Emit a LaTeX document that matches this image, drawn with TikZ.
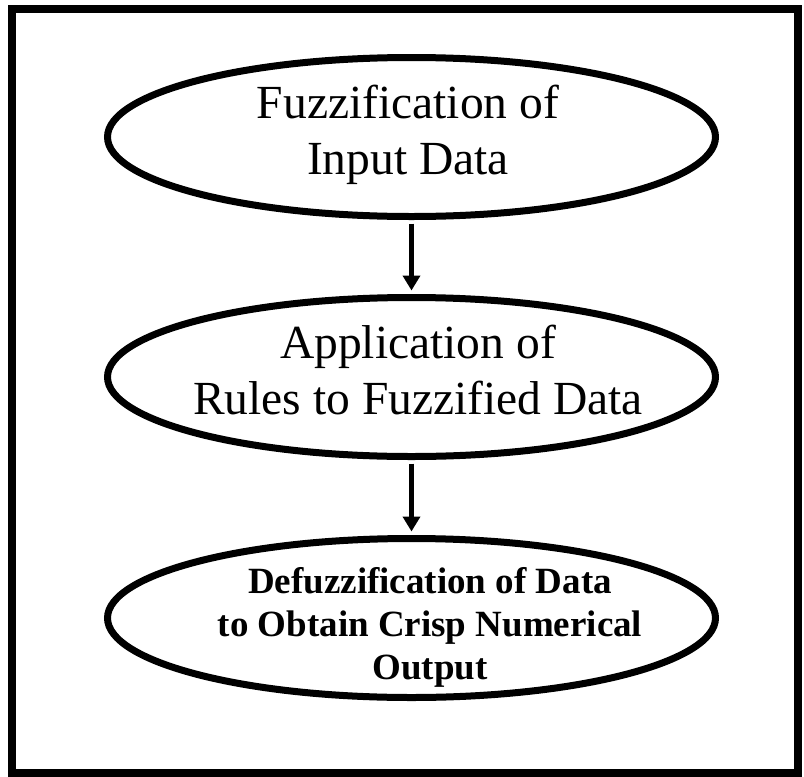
\documentclass[tikz,border=0pt]{standalone}
\usepackage{fontspec}
\setmainfont{Liberation Serif}
\usetikzlibrary{shapes.geometric,arrows.meta}

\tikzset{
  stage/.style={ellipse, draw=black, line width=7pt, minimum width=608pt,
                minimum height=159pt, inner sep=0pt},
  stagetext/.style={align=center, inner sep=0pt,
                    font=\fontsize{47.5}{56}\selectfont},
  stagebold/.style={align=center, inner sep=0pt,
                    font=\fontsize{37}{43}\selectfont\bfseries},
  flow/.style={line width=5pt, -{Triangle[width=17pt,length=15pt]},
               shorten >=3.5pt, shorten <=3.5pt},
  frame/.style={draw=black, line width=8pt}
}

\begin{document}
\begin{tikzpicture}[x=1pt,y=-1pt]
  \useasboundingbox (0,0) rectangle (804,777);
  % outer frame
  \draw[frame] (12,9) rectangle (798,773);

  % the three processing stages
  \node[stage] (fuzz) at (411.5,137) {};
  \node[stage] (rules) at (411.5,377) {};
  \node[stage] (defuzz) at (411.5,618) {};

  \node[stagetext] (fuzzlabel) at (408,135) {Fuzzification of\\Input Data};
  \node[stagetext] (ruleslabel) at (418,370) {Application of\\Rules to Fuzzified Data};
  \node[stagebold] (defuzzlabel) at (430,627) {Defuzzification of Data\\to Obtain Crisp Numerical\\Output};

  % flow between stages
  \draw[flow] (fuzz) -- (rules);
  \draw[flow] (rules) -- (defuzz);
\end{tikzpicture}
\end{document}
